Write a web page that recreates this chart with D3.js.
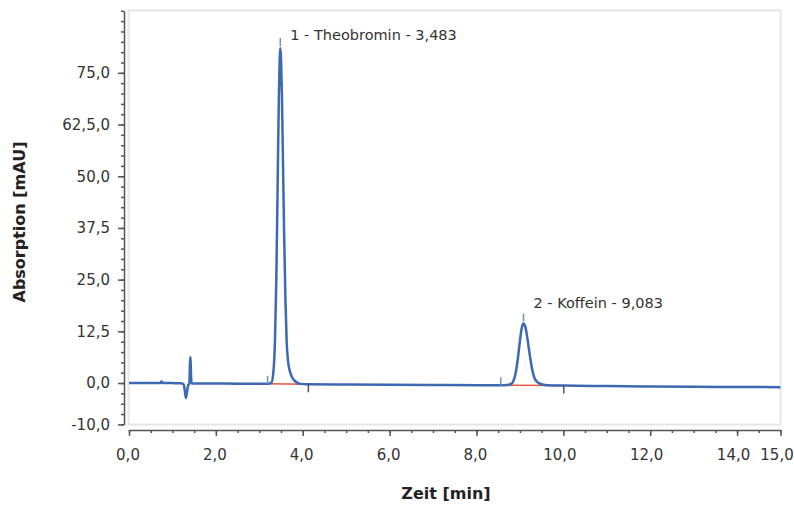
<!DOCTYPE html>
<html>
<head>
<meta charset="utf-8">
<script src="https://cdn.jsdelivr.net/npm/d3@7"></script>
<style>
    body { margin: 0; background: #fff; }
    svg { display: block; font-family: "DejaVu Sans", Verdana, sans-serif; }
</style>
</head>
<body>
<svg id="chrom" width="794" height="505"></svg>
<script>

/* Messpunkte des Chromatogramms (Zeit in min, Absorption in mAU) */
var time_min = [
    0.00, 0.30, 0.60, 0.72, 0.75, 0.78, 1.00, 1.20, 1.26, 1.29, 1.31, 1.33, 1.36, 1.39,
    1.405, 1.415, 1.425, 1.44, 1.50, 2.00, 2.50, 3.00, 3.20, 3.28, 3.33, 3.36, 3.39, 3.42,
    3.45, 3.47, 3.483, 3.50, 3.52, 3.54, 3.57, 3.60, 3.63, 3.66, 3.70, 3.75, 3.80, 3.87,
    3.95, 4.10, 5.00, 6.00, 7.00, 8.00, 8.56, 8.70, 8.80, 8.85, 8.90, 8.95, 9.00, 9.04,
    9.083, 9.13, 9.18, 9.23, 9.28, 9.33, 9.40, 9.50, 9.65, 10.0, 11.0, 12.0, 13.0, 14.0, 15.0
];
var absorption = [
    0.00, 0.02, 0.00, 0.00, 0.35, 0.00, -0.02, -0.05, -0.4, -2.2, -3.6, -2.6, -0.6, -0.1,
    5.0, 6.3, 3.0, -0.1, -0.1, -0.12, -0.15, -0.18, -0.2, 0.1, 3.4, 10, 24, 46,
    69, 78.5, 81, 78.5, 70, 57, 37, 21, 10, 5.5, 3.0, 1.5, 0.7, 0.1,
    -0.2, -0.3, -0.37, -0.43, -0.48, -0.52, -0.55, -0.5, -0.2, 0.5, 2.3, 5.7, 10.1, 13.2,
    14.4, 13.4, 10.3, 6.6, 3.4, 1.4, 0.2, -0.3, -0.55, -0.62, -0.72, -0.82, -0.9, -0.95, -1.0
];

/* Peaks: Beschriftung, Retentionszeit, Höhe, Integrationsgrenzen */
var peak_labels  = ["1 - Theobromin - 3,483", "2 - Koffein - 9,083"];
var peak_times   = [3.483, 9.083];
var peak_heights = [81, 14.4];
var int_start    = [3.19, 8.56];
var int_start_v  = [-0.2, -0.55];
var int_end      = [4.13, 10.01];
var int_end_v    = [-0.3, -0.62];

/* Achsen */
var x_ticks       = [0, 2, 4, 6, 8, 10, 12, 14, 15];
var x_tick_labels = ["0,0", "2,0", "4,0", "6,0", "8,0", "10,0", "12,0", "14,0", "15,0"];
var y_ticks       = [-10, 0, 12.5, 25, 37.5, 50, 62.5, 75];
var y_tick_labels = ["-10,0", "0,0", "12,5", "25,0", "37,5", "50,0", "62,5,0", "75,0"];
var x_domain = [0, 15];
var y_domain = [-10, 90];

var svg = d3.select("#chrom");

var x = d3.scaleLinear().domain(x_domain).range([129, 780.5]);
var y = d3.scaleLinear().domain(y_domain).range([424.4, 10.8]);

/* Hellgrauer Rahmen um die Zeichenfläche */
svg.append("rect")
    .attr("x", 128.5).attr("y", 10.5)
    .attr("width", 652).attr("height", 414)
    .attr("fill", "none")
    .attr("stroke", "#e6e6e6")
    .attr("stroke-width", 2);

/* Nebenstriche (alle 2,5 mAU bzw. 0,5 min) */
var y_minor = d3.range(-10, 90.01, 2.5);
var x_minor = d3.range(0, 15.01, 0.5);

var y_axis_g = svg.append("g").attr("transform", "translate(124,0)");
y_axis_g.call(d3.axisLeft(y).tickValues(y_minor).tickSize(3).tickSizeOuter(0).tickFormat(""));
var y_major = y_axis_g.append("g").call(d3.axisLeft(y).tickValues(y_ticks).tickSize(6).tickSizeOuter(0)
    .tickFormat(function(d, i) { return y_tick_labels[i]; }));
y_major.select(".domain").remove();

var x_axis_g = svg.append("g").attr("transform", "translate(0,430)");
x_axis_g.call(d3.axisBottom(x).tickValues(x_minor).tickSize(3).tickSizeOuter(0).tickFormat(""));
var x_major = x_axis_g.append("g").call(d3.axisBottom(x).tickValues(x_ticks).tickSize(6).tickSizeOuter(0)
    .tickFormat(function(d, i) { return x_tick_labels[i]; }));
x_major.select(".domain").remove();

svg.selectAll(".domain, .tick line")
    .attr("stroke", "#555")
    .attr("stroke-width", 1.5);

y_major.selectAll(".tick text")
    .attr("x", -14)
    .attr("font-size", "15px")
    .attr("font-family", "DejaVu Sans")
    .attr("fill", "#333");

x_major.selectAll(".tick text")
    .attr("y", 19)
    .attr("dx", function(d) { return d >= 10 ? -4 : -1.5; })
    .attr("font-size", "15px")
    .attr("font-family", "DejaVu Sans")
    .attr("fill", "#333");

/* Achsentitel */
svg.append("text")
    .attr("x", 446).attr("y", 499)
    .attr("text-anchor", "middle")
    .attr("font-size", "16px")
    .attr("font-weight", "bold")
    .attr("fill", "#222")
    .text("Zeit [min]");

svg.append("text")
    .attr("transform", "translate(25,222) rotate(-90)")
    .attr("text-anchor", "middle")
    .attr("font-size", "16px")
    .attr("font-weight", "bold")
    .attr("fill", "#222")
    .text("Absorption [mAU]");

/* Basislinien der Integration (rot) */
var peaks = peak_times.map(function(t, i) {
    return {
        label: peak_labels[i], t: t, h: peak_heights[i],
        s: int_start[i], sv: int_start_v[i], e: int_end[i], ev: int_end_v[i]
    };
});

svg.selectAll(".int_base")
    .data(peaks).enter()
    .append("line")
    .attr("class", "int_base")
    .attr("x1", function(d) { return x(d.s); })
    .attr("y1", function(d) { return y(d.sv); })
    .attr("x2", function(d) { return x(d.e); })
    .attr("y2", function(d) { return y(d.ev); })
    .attr("stroke", "#e8553f")
    .attr("stroke-width", 1.5);

/* Chromatogramm-Linie */
var points = time_min.map(function(t, i) { return [t, absorption[i]]; });

var line = d3.line()
    .x(function(d) { return x(d[0]); })
    .y(function(d) { return y(d[1]); })
    .curve(d3.curveMonotoneX);

svg.append("path")
    .datum(points)
    .attr("d", line)
    .attr("fill", "none")
    .attr("stroke", "#3d69b2")
    .attr("stroke-width", 2.5)
    .attr("stroke-linejoin", "round");

/* Markierungen: Start (nach oben), Ende (nach unten), Apex */
var mark_col = "#7f8ea8";

svg.selectAll(".mk_start").data(peaks).enter()
    .append("line")
    .attr("x1", function(d) { return x(d.s); })
    .attr("x2", function(d) { return x(d.s); })
    .attr("y1", function(d) { return y(d.sv) - 8; })
    .attr("y2", function(d) { return y(d.sv); })
    .attr("stroke", mark_col).attr("stroke-width", 1.5);

svg.selectAll(".mk_end").data(peaks).enter()
    .append("line")
    .attr("x1", function(d) { return x(d.e); })
    .attr("x2", function(d) { return x(d.e); })
    .attr("y1", function(d) { return y(d.ev); })
    .attr("y2", function(d) { return y(d.ev) + 8; })
    .attr("stroke", "#555").attr("stroke-width", 1.5);

svg.selectAll(".mk_apex").data(peaks).enter()
    .append("line")
    .attr("x1", function(d) { return x(d.t); })
    .attr("x2", function(d) { return x(d.t); })
    .attr("y1", function(d) { return y(d.h) - 10; })
    .attr("y2", function(d) { return y(d.h) - 2; })
    .attr("stroke", mark_col).attr("stroke-width", 1.5);

/* Peak-Beschriftungen */
svg.selectAll(".peak_label").data(peaks).enter()
    .append("text")
    .attr("x", function(d) { return x(d.t) + 10; })
    .attr("y", function(d) { return Math.max(35, y(d.h) - 21); })
    .attr("dy", "0.35em")
    .attr("font-size", "14.5px")
    .attr("fill", "#333")
    .text(function(d) { return d.label; });

</script>
</body>
</html>
